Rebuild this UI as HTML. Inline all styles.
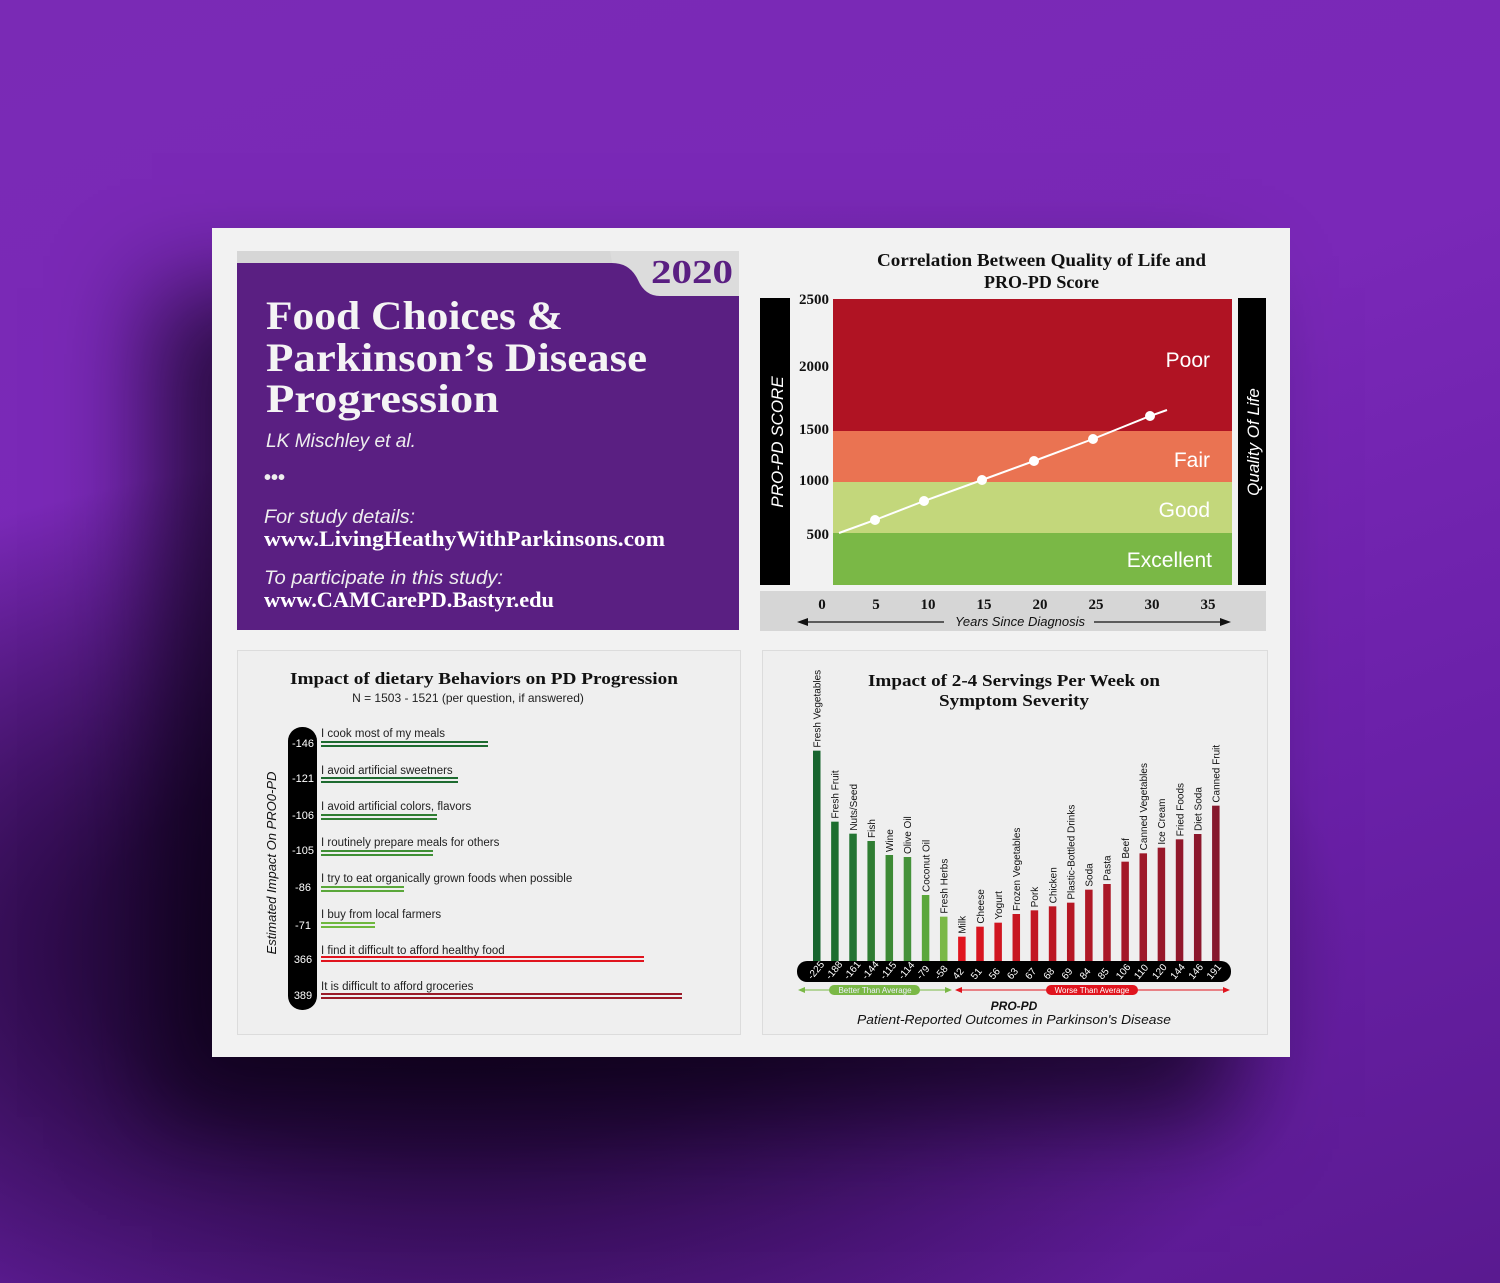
<!DOCTYPE html>
<html><head><meta charset="utf-8"><style>
html,body{margin:0;padding:0;}
body{width:1500px;height:1283px;overflow:hidden;position:relative;
background:radial-gradient(ellipse 900px 500px at 450px 950px,#12041f 0%,#2a0a45 40%,rgba(80,20,130,0) 100%),linear-gradient(160deg,#7a2ab5 0%,#7a28b8 40%,#6a20a8 70%,#5a1a90 100%);}
svg{position:absolute;left:0;top:0;}
.serif{font-family:"Liberation Serif",serif;font-weight:bold;}
.sans{font-family:"Liberation Sans",sans-serif;}
</style></head><body>
<div style="position:absolute;left:212px;top:228px;width:1078px;height:829px;background:#f2f2f2;box-shadow:-60px 60px 90px rgba(10,0,20,0.7);"></div>
<svg width="1500" height="1283" viewBox="0 0 1500 1283">
<!-- title panel -->
<rect x="237" y="251" width="502" height="12" fill="#d6d6d6"/>
<rect x="237" y="263" width="502" height="367" fill="#5a1f82"/>
<path d="M610 251 L739 251 L739 296 L660 296 Q645 296 638 280 Q630 263 612 263 Z" fill="#dcdcdc"/>
<text x="651" y="283" textLength="82" lengthAdjust="spacingAndGlyphs" class="serif" font-size="34" fill="#5a1f82">2020</text>
<g class="serif" font-size="40" fill="#f4f4f4">
<text x="266" y="329" textLength="297" lengthAdjust="spacingAndGlyphs">Food Choices &amp;</text>
<text x="266" y="371" textLength="381" lengthAdjust="spacingAndGlyphs">Parkinson’s Disease</text>
<text x="266" y="412" textLength="233" lengthAdjust="spacingAndGlyphs">Progression</text></g>
<text x="266" y="447" textLength="150" lengthAdjust="spacingAndGlyphs" class="sans" font-style="italic" font-size="19" fill="#eee">LK Mischley et al.</text>
<text x="264" y="484" class="sans" font-size="20" font-weight="bold" fill="#eee">•••</text>
<text x="264" y="523" textLength="151" lengthAdjust="spacingAndGlyphs" class="sans" font-style="italic" font-size="19" fill="#eee">For study details:</text>
<text x="264" y="546" textLength="401" lengthAdjust="spacingAndGlyphs" font-family="Liberation Serif,serif" font-weight="bold" font-size="22" fill="#fff">www.LivingHeathyWithParkinsons.com</text>
<text x="264" y="584" textLength="239" lengthAdjust="spacingAndGlyphs" class="sans" font-style="italic" font-size="19" fill="#eee">To participate in this study:</text>
<text x="264" y="607" textLength="290" lengthAdjust="spacingAndGlyphs" font-family="Liberation Serif,serif" font-weight="bold" font-size="22" fill="#fff">www.CAMCarePD.Bastyr.edu</text>

<!-- top right chart -->
<text x="877" y="266" textLength="329" lengthAdjust="spacingAndGlyphs" class="serif" font-size="18" fill="#111">Correlation Between Quality of Life and</text>
<text x="984" y="288" textLength="115" lengthAdjust="spacingAndGlyphs" class="serif" font-size="18" fill="#111">PRO-PD Score</text>
<rect x="760" y="298" width="30" height="287" fill="#000"/>
<rect x="1238" y="298" width="28" height="287" fill="#000"/>
<text transform="translate(783,442) rotate(-90)" text-anchor="middle" class="sans" font-style="italic" font-size="17" fill="#fff">PRO-PD SCORE</text>
<text transform="translate(1259,442) rotate(-90)" text-anchor="middle" class="sans" font-style="italic" font-size="17" fill="#fff">Quality Of Life</text>
<rect x="833" y="299" width="399" height="132" fill="#b01323"/>
<rect x="833" y="431" width="399" height="51" fill="#ea7352"/>
<rect x="833" y="482" width="399" height="51" fill="#c3d77b"/>
<rect x="833" y="533" width="399" height="52" fill="#7ab846"/>
<g class="sans" font-size="21" fill="#fff" text-anchor="end">
<text x="1210" y="367">Poor</text><text x="1210" y="467">Fair</text><text x="1210" y="517">Good</text><text x="1212" y="567">Excellent</text></g>
<g class="serif" font-size="15" fill="#111" text-anchor="end">
<text x="829" y="304">2500</text><text x="829" y="371">2000</text><text x="829" y="434">1500</text><text x="829" y="485">1000</text><text x="829" y="539">500</text></g>
<polyline points="839,533 875,520 924,501 982,480 1034,461 1093,439 1150,416 1167,410" fill="none" stroke="#fff" stroke-width="2"/>
<g fill="#fff"><circle cx="875" cy="520" r="5"/><circle cx="924" cy="501" r="5"/><circle cx="982" cy="480" r="5"/><circle cx="1034" cy="461" r="5"/><circle cx="1093" cy="439" r="5"/><circle cx="1150" cy="416" r="5"/></g>
<rect x="760" y="591" width="506" height="40" fill="#d6d6d6"/>
<g class="serif" font-size="15" fill="#111" text-anchor="middle">
<text x="822" y="609">0</text><text x="876" y="609">5</text><text x="928" y="609">10</text><text x="984" y="609">15</text><text x="1040" y="609">20</text><text x="1096" y="609">25</text><text x="1152" y="609">30</text><text x="1208" y="609">35</text></g>
<line x1="800" y1="622" x2="944" y2="622" stroke="#111" stroke-width="1.2"/>
<line x1="1094" y1="622" x2="1228" y2="622" stroke="#111" stroke-width="1.2"/>
<path d="M797 622 L808 618 L808 626Z M1231 622 L1220 618 L1220 626Z" fill="#111"/>
<text x="1020" y="626" text-anchor="middle" class="sans" font-style="italic" font-size="13" fill="#111">Years Since Diagnosis</text>

<!-- bottom panels -->
<rect x="237.5" y="650.5" width="503" height="384" fill="#efefef" stroke="#dcdcdc"/>
<rect x="762.5" y="650.5" width="505" height="384" fill="#efefef" stroke="#dcdcdc"/>

<text x="290" y="684" textLength="388" lengthAdjust="spacingAndGlyphs" class="serif" font-size="17" fill="#111">Impact of dietary Behaviors on PD Progression</text>
<text x="468" y="702" text-anchor="middle" class="sans" font-size="12" fill="#222">N = 1503 - 1521 (per question, if answered)</text>
<text transform="translate(276,863) rotate(-90)" text-anchor="middle" class="sans" font-style="italic" font-size="13" fill="#111">Estimated Impact On PRO0-PD</text>
<rect x="288" y="727" width="29" height="283" rx="14" fill="#000"/>
<g class="sans" font-size="11" fill="#fff" text-anchor="middle">
<text x="303" y="747">-146</text><text x="303" y="782">-121</text><text x="303" y="819">-106</text><text x="303" y="854">-105</text><text x="303" y="891">-86</text><text x="303" y="929">-71</text><text x="303" y="963">366</text><text x="303" y="999">389</text></g>
<g class="sans" font-size="11.5" fill="#222">
<text x="321" y="737">I cook most of my meals</text>
<text x="321" y="774">I avoid artificial sweetners</text>
<text x="321" y="810">I avoid artificial colors, flavors</text>
<text x="321" y="846">I routinely prepare meals for others</text>
<text x="321" y="882">I try to eat organically grown foods when possible</text>
<text x="321" y="918">I buy from local farmers</text>
<text x="321" y="954">I find it difficult to afford healthy food</text>
<text x="321" y="990">It is difficult to afford groceries</text></g>
<g stroke-width="2">
<g stroke="#1e6b30"><line x1="321" y1="742" x2="488" y2="742"/><line x1="321" y1="746" x2="488" y2="746"/></g>
<g stroke="#1e6b30"><line x1="321" y1="778" x2="458" y2="778"/><line x1="321" y1="782" x2="458" y2="782"/></g>
<g stroke="#2f7d32"><line x1="321" y1="815" x2="437" y2="815"/><line x1="321" y1="819" x2="437" y2="819"/></g>
<g stroke="#3f8f35"><line x1="321" y1="851" x2="433" y2="851"/><line x1="321" y1="855" x2="433" y2="855"/></g>
<g stroke="#5aa73a"><line x1="321" y1="887" x2="404" y2="887"/><line x1="321" y1="891" x2="404" y2="891"/></g>
<g stroke="#6fb83e"><line x1="321" y1="923" x2="375" y2="923"/><line x1="321" y1="927" x2="375" y2="927"/></g>
<g stroke="#e0141e"><line x1="321" y1="957" x2="644" y2="957"/><line x1="321" y1="961" x2="644" y2="961"/></g>
<g stroke="#9a1a28"><line x1="321" y1="994" x2="682" y2="994"/><line x1="321" y1="998" x2="682" y2="998"/></g>
</g>

<text x="868" y="686" textLength="292" lengthAdjust="spacingAndGlyphs" class="serif" font-size="17" fill="#111">Impact of 2-4 Servings Per Week on</text>
<text x="939" y="706" textLength="150" lengthAdjust="spacingAndGlyphs" class="serif" font-size="17" fill="#111">Symptom Severity</text>
<g id="bars"></g>
<rect x="797" y="961" width="434" height="21" rx="10" fill="#000"/>
<g id="vals" class="sans" font-size="10" fill="#fff"></g>
<line x1="800" y1="990" x2="950" y2="990" stroke="#7ab846"/>
<path d="M798 990 L805 987 L805 993Z M952 990 L945 987 L945 993Z" fill="#7ab846"/>
<rect x="829" y="985" width="91" height="10" rx="5" fill="#7ab846"/>
<text x="875" y="993" text-anchor="middle" class="sans" font-size="8" fill="#eef">Better Than Average</text>
<line x1="956" y1="990" x2="1228" y2="990" stroke="#e0141e"/>
<path d="M955 990 L962 987 L962 993Z M1230 990 L1223 987 L1223 993Z" fill="#e0141e"/>
<rect x="1046" y="985" width="92" height="10" rx="5" fill="#e0141e"/>
<text x="1092" y="993" text-anchor="middle" class="sans" font-size="8" fill="#fff">Worse Than Average</text>
<text x="1014" y="1010" text-anchor="middle" class="sans" font-style="italic" font-weight="bold" font-size="12" fill="#111">PRO-PD</text>
<text x="857" y="1024" textLength="314" lengthAdjust="spacingAndGlyphs" class="sans" font-style="italic" font-size="13" fill="#111">Patient-Reported Outcomes in Parkinson's Disease</text>
</svg>
<script>
var d=[["Fresh Vegetables",-225,272,"#17652e"],["Fresh Fruit",-188,485,"#1d6e2f"],["Nuts/Seed",-161,521,"#227432"],["Fish",-144,543,"#2f7d32"],["Wine",-115,585,"#3d8a35"],["Olive Oil",-114,591,"#45923a"],["Coconut Oil",-79,705,"#5aa73a"],["Fresh Herbs",-58,770,"#7ab846"],["Milk",42,830,"#e0141e"],["Cheese",51,800,"#d8141f"],["Yogurt",56,788,"#d01520"],["Frozen Vegetables",63,762,"#c81621"],["Pork",67,751,"#c21622"],["Chicken",68,739,"#bc1723"],["Plastic-Bottled Drinks",69,728,"#b61724"],["Soda",84,689,"#b01826"],["Pasta",85,672,"#aa1827"],["Beef",106,605,"#a41828"],["Canned Vegetables",110,580,"#9e1829"],["Ice Cream",120,563,"#98182a"],["Fried Foods",144,538,"#92182b"],["Diet Soda",146,522,"#8c182c"],["Canned Fruit",191,437,"#86182d"]];
var ns="http://www.w3.org/2000/svg",b=document.getElementById("bars"),v=document.getElementById("vals");
d.forEach(function(e,i){var x=813+i*18.14,top=e[2]/3+660;
var r=document.createElementNS(ns,"rect");r.setAttribute("x",x);r.setAttribute("y",top);r.setAttribute("width",7.5);r.setAttribute("height",961-top);r.setAttribute("fill",e[3]);b.appendChild(r);
var t=document.createElementNS(ns,"text");t.setAttribute("transform","translate("+(x+7.5)+","+(top-3)+") rotate(-90)");t.setAttribute("font-family","Liberation Sans,sans-serif");t.setAttribute("font-size","10");t.setAttribute("fill","#111");t.textContent=e[0];b.appendChild(t);
var t2=document.createElementNS(ns,"text");t2.setAttribute("transform","translate("+(x-1)+",980) rotate(-50)");t2.textContent=e[1];v.appendChild(t2);});
</script>
</body></html>
